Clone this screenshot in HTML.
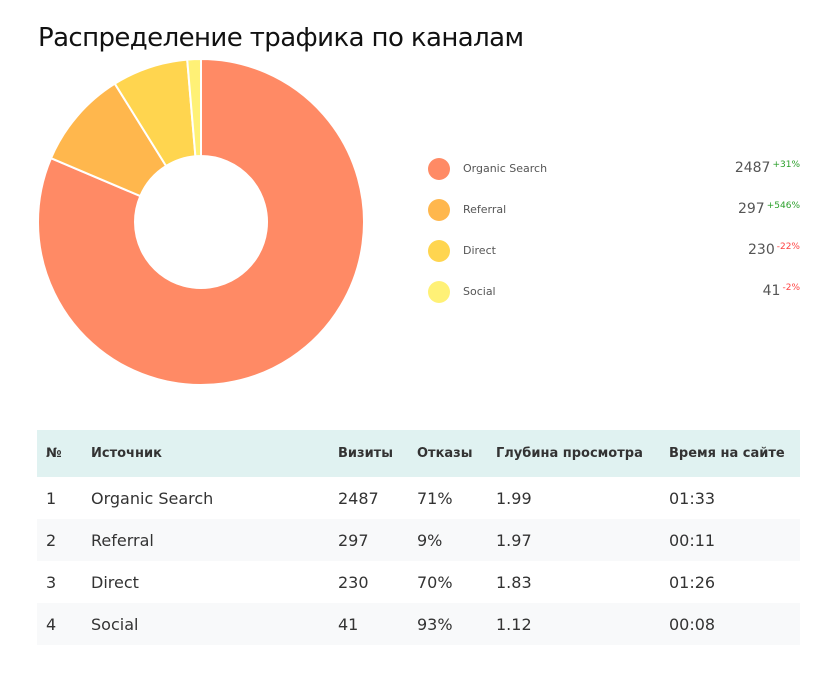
<!DOCTYPE html>
<html><head><meta charset="utf-8"><style>
body{margin:0;background:#fff;font-family:"DejaVu Sans","Liberation Sans",sans-serif;color:#333;width:834px;height:694px;overflow:hidden;position:relative}
h1{position:absolute;left:38px;top:23px;margin:0;font-weight:normal;font-size:26px;color:#111;font-family:"DejaVu Sans",sans-serif;letter-spacing:-0.6px}
.lg{position:absolute;left:428px;width:372px;height:24px;font-size:11px;color:#555}
.lg .d{position:absolute;left:0;top:0;width:22px;height:22px;border-radius:50%}
.lg .n{position:absolute;left:35px;top:4px}
.lg .vv{position:absolute;right:0;top:2px;white-space:nowrap}
.lg .v{font-size:14px;color:#555}
.lg .p{font-size:9px;vertical-align:5px;margin-left:2px}
.g{color:#2ca02c}.r{color:#f44}
table{position:absolute;left:37px;top:430px;width:763px;border-collapse:collapse;font-size:16px}
th{background:#e0f2f1;font-size:13px;text-align:left;height:47px;padding:0 0 0 9px;font-weight:bold;color:#333}
td{height:42px;padding:0 0 0 9px}
tr:nth-child(odd) td{background:#f8f9fa}
</style></head><body>
<h1>Распределение трафика по каналам</h1>
<svg style="position:absolute;left:0;top:0" width="834" height="420">
<g stroke="#fff" stroke-width="2">
<path d="M201 59 A163 163 0 1 1 51.0 158.2 L140.3 196.1 A66 66 0 1 0 201 156 Z" fill="#ff8a65"/>
<path d="M51.0 158.2 A163 163 0 0 1 114.8 83.7 L166.1 166.0 A66 66 0 0 0 140.3 196.1 Z" fill="#ffb74d"/>
<path d="M114.8 83.7 A163 163 0 0 1 187.2 59.6 L195.4 156.2 A66 66 0 0 0 166.1 166.0 Z" fill="#ffd54f"/>
<path d="M187.2 59.6 A163 163 0 0 1 201 59 L201 156 A66 66 0 0 0 195.4 156.2 Z" fill="#fff176"/>
</g></svg>
<div class="lg" style="top:158px"><div class="d" style="background:#ff8a65"></div><span class="n">Organic Search</span><span class="vv"><span class="v">2487</span><span class="p g">+31%</span></span></div>
<div class="lg" style="top:199px"><div class="d" style="background:#ffb74d"></div><span class="n">Referral</span><span class="vv"><span class="v">297</span><span class="p g">+546%</span></span></div>
<div class="lg" style="top:240px"><div class="d" style="background:#ffd54f"></div><span class="n">Direct</span><span class="vv"><span class="v">230</span><span class="p r">-22%</span></span></div>
<div class="lg" style="top:281px"><div class="d" style="background:#fff176"></div><span class="n">Social</span><span class="vv"><span class="v">41</span><span class="p r">-2%</span></span></div>
<table>
<tr><th style="width:36px">№</th><th style="width:238px">Источник</th><th style="width:70px">Визиты</th><th style="width:70px">Отказы</th><th style="width:164px">Глубина просмотра</th><th>Время на сайте</th></tr>
<tr><td>1</td><td>Organic Search</td><td>2487</td><td>71%</td><td>1.99</td><td>01:33</td></tr>
<tr><td>2</td><td>Referral</td><td>297</td><td>9%</td><td>1.97</td><td>00:11</td></tr>
<tr><td>3</td><td>Direct</td><td>230</td><td>70%</td><td>1.83</td><td>01:26</td></tr>
<tr><td>4</td><td>Social</td><td>41</td><td>93%</td><td>1.12</td><td>00:08</td></tr>
</table>
</body></html>
